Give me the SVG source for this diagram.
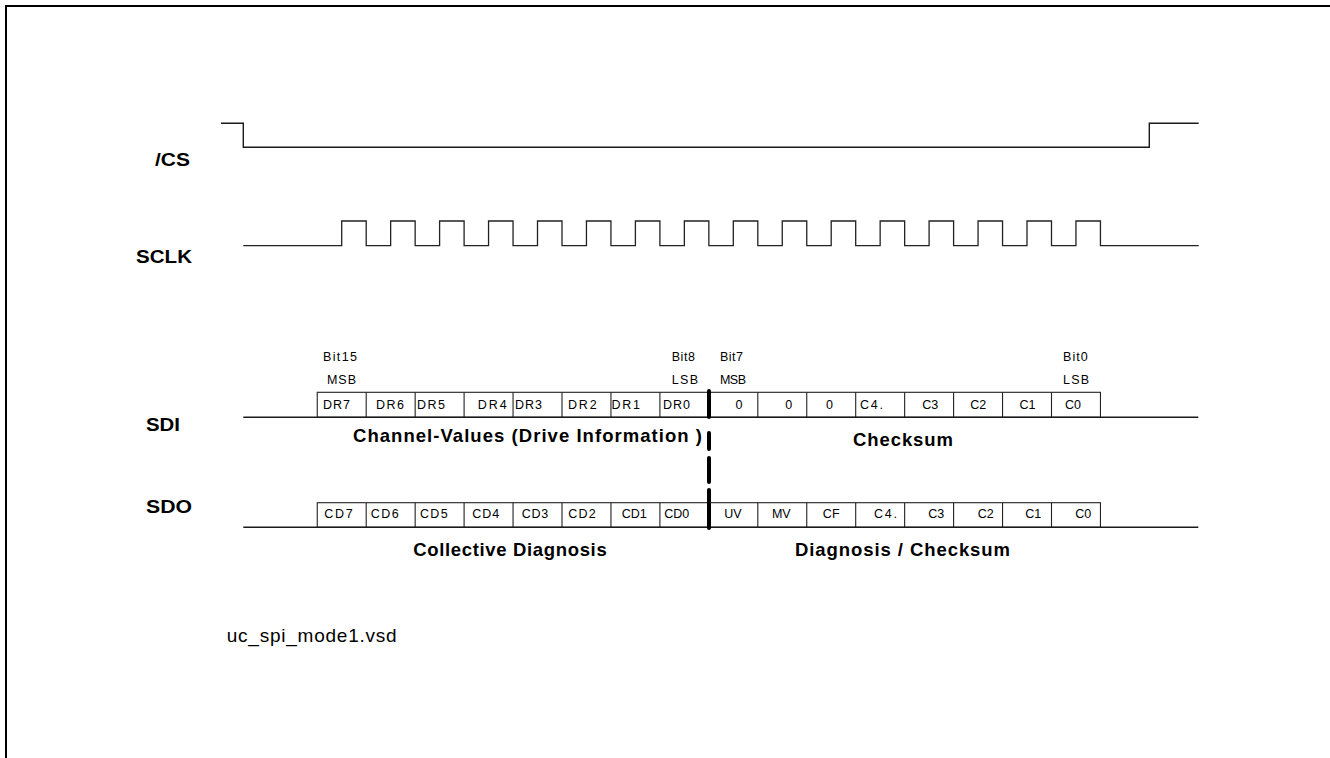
<svg xmlns="http://www.w3.org/2000/svg" width="1330" height="758" viewBox="0 0 1330 758">
<style>
.sig{fill:none;stroke:#1a1a1a;stroke-width:1.4}
.clk{fill:none;stroke:#222;stroke-width:1.3}
.box{fill:#fff;stroke:#222;stroke-width:1.1}
.div{stroke:#222;stroke-width:1.1}
.lbl{font-family:"Liberation Sans",Arial,sans-serif;font-weight:bold;font-size:19px;fill:#000}
.mid{font-family:"Liberation Sans",Arial,sans-serif;font-weight:bold;font-size:18.5px;fill:#000}
.sm{font-family:"Liberation Sans",Arial,sans-serif;font-size:12.5px;fill:#000}
.c{text-anchor:middle}
.fn{font-family:"Liberation Sans",Arial,sans-serif;font-size:19px;fill:#000}
.sep{stroke:#000;stroke-width:4;stroke-linecap:round}
</style>
<rect width="1330" height="758" fill="#fff"/>
<path d="M6,758 V6 H1330" fill="none" stroke="#000" stroke-width="2"/>

<g id="labels">
<text class="lbl" x="155" y="166" textLength="35" lengthAdjust="spacingAndGlyphs">/CS</text>
<text class="lbl" x="136" y="263" textLength="56" lengthAdjust="spacingAndGlyphs">SCLK</text>
<text class="lbl" x="146" y="431" textLength="34" lengthAdjust="spacingAndGlyphs">SDI</text>
<text class="lbl" x="146" y="513" textLength="46" lengthAdjust="spacingAndGlyphs">SDO</text>
</g>

<g id="cs">
<path class="sig" d="M221,123.3 H243.3 V147.3 H1149.3 V123.3 H1198.7"/>
</g>

<g id="sclk">
<path class="clk" d="M243.3,245.7 H341.7 V221 H366.2 V245.7 H390.65 V221 H415.15 V245.7 H439.6 V221 H464.1 V245.7 H488.55 V221 H513.05 V245.7 H537.5 V221 H562 V245.7 H586.45 V221 H610.95 V245.7 H635.4 V221 H659.9 V245.7 H684.35 V221 H708.85 V245.7 H733.3 V221 H757.8 V245.7 H782.25 V221 H806.75 V245.7 H831.2 V221 H855.7 V245.7 H880.15 V221 H904.65 V245.7 H929.1 V221 H953.6 V245.7 H978.05 V221 H1002.55 V245.7 H1027 V221 H1051.5 V245.7 H1075.95 V221 H1100.45 V245.7 H1198.7"/>
</g>

<g id="sdi">
<rect class="box" x="317.25" y="392.3" width="783.2" height="25"/>
<path class="div" d="M366.2,392.3V417.3 M415.15,392.3V417.3 M464.1,392.3V417.3 M513.05,392.3V417.3 M562,392.3V417.3 M610.95,392.3V417.3 M659.9,392.3V417.3 M708.85,392.3V417.3 M757.8,392.3V417.3 M806.75,392.3V417.3 M855.7,392.3V417.3 M904.65,392.3V417.3 M953.6,392.3V417.3 M1002.55,392.3V417.3 M1051.5,392.3V417.3"/>
<line class="sig" x1="243.3" y1="417.3" x2="1198.3" y2="417.3"/>
<text class="sm" x="323" y="360.7" textLength="34" lengthAdjust="spacing">Bit15</text>
<text class="sm" x="327" y="384" textLength="29" lengthAdjust="spacing">MSB</text>
<text class="sm" x="671.7" y="360.7" textLength="23.3" lengthAdjust="spacing">Bit8</text>
<text class="sm" x="671.7" y="384" textLength="26.3" lengthAdjust="spacing">LSB</text>
<text class="sm" x="720" y="360.7" textLength="23" lengthAdjust="spacing">Bit7</text>
<text class="sm" x="720" y="384" textLength="26" lengthAdjust="spacing">MSB</text>
<text class="sm" x="1063" y="360.7" textLength="24.7" lengthAdjust="spacing">Bit0</text>
<text class="sm" x="1063" y="384" textLength="26" lengthAdjust="spacing">LSB</text>
<text class="sm" x="323" y="408.5" textLength="27" lengthAdjust="spacing">DR7</text>
<text class="sm" x="376" y="408.5" textLength="28" lengthAdjust="spacing">DR6</text>
<text class="sm" x="417" y="408.5" textLength="28" lengthAdjust="spacing">DR5</text>
<text class="sm" x="477.7" y="408.5" textLength="29" lengthAdjust="spacing">DR4</text>
<text class="sm" x="515" y="408.5" textLength="27" lengthAdjust="spacing">DR3</text>
<text class="sm" x="568" y="408.5" textLength="28.7" lengthAdjust="spacing">DR2</text>
<text class="sm" x="611.5" y="408.5" textLength="28.5" lengthAdjust="spacing">DR1</text>
<text class="sm" x="663" y="408.5" textLength="27" lengthAdjust="spacing">DR0</text>
<text class="sm c" x="739" y="408.5">0</text>
<text class="sm c" x="788.7" y="408.5">0</text>
<text class="sm c" x="829.5" y="408.5">0</text>
<text class="sm" x="860" y="408.5" textLength="23" lengthAdjust="spacing">C4.</text>
<text class="sm c" x="930.3" y="408.5">C3</text>
<text class="sm c" x="978.3" y="408.5">C2</text>
<text class="sm c" x="1027.5" y="408.5">C1</text>
<text class="sm c" x="1073" y="408.5">C0</text>
<text class="mid" x="353" y="442" textLength="349" lengthAdjust="spacing">Channel-Values (Drive Information )</text>
<text class="mid" x="853" y="446" textLength="100" lengthAdjust="spacing">Checksum</text>
</g>

<g id="sdo">
<rect class="box" x="317.25" y="502.7" width="783.2" height="24.6"/>
<path class="div" d="M366.2,502.7V527.3 M415.15,502.7V527.3 M464.1,502.7V527.3 M513.05,502.7V527.3 M562,502.7V527.3 M610.95,502.7V527.3 M659.9,502.7V527.3 M708.85,502.7V527.3 M757.8,502.7V527.3 M806.75,502.7V527.3 M855.7,502.7V527.3 M904.65,502.7V527.3 M953.6,502.7V527.3 M1002.55,502.7V527.3 M1051.5,502.7V527.3"/>
<line class="sig" x1="243.3" y1="527.3" x2="1198.3" y2="527.3"/>
<text class="sm" x="324.3" y="517.7" textLength="28.4" lengthAdjust="spacing">CD7</text>
<text class="sm" x="370.7" y="517.7" textLength="28" lengthAdjust="spacing">CD6</text>
<text class="sm" x="420" y="517.7" textLength="27.7" lengthAdjust="spacing">CD5</text>
<text class="sm" x="472.3" y="517.7" textLength="27" lengthAdjust="spacing">CD4</text>
<text class="sm" x="521.7" y="517.7" textLength="26.6" lengthAdjust="spacing">CD3</text>
<text class="sm" x="568.3" y="517.7" textLength="27.4" lengthAdjust="spacing">CD2</text>
<text class="sm" x="621.7" y="517.7" textLength="25" lengthAdjust="spacing">CD1</text>
<text class="sm" x="664.3" y="517.7" textLength="25" lengthAdjust="spacing">CD0</text>
<text class="sm c" x="733" y="517.7">UV</text>
<text class="sm c" x="781.3" y="517.7">MV</text>
<text class="sm c" x="831.2" y="517.7">CF</text>
<text class="sm" x="874" y="517.7" textLength="23" lengthAdjust="spacing">C4.</text>
<text class="sm c" x="936.3" y="517.7">C3</text>
<text class="sm c" x="985.8" y="517.7">C2</text>
<text class="sm c" x="1033.3" y="517.7">C1</text>
<text class="sm c" x="1083.3" y="517.7">C0</text>
<text class="mid" x="413.3" y="556" textLength="193.4" lengthAdjust="spacing">Collective Diagnosis</text>
<text class="mid" x="795" y="556" textLength="215" lengthAdjust="spacing">Diagnosis / Checksum</text>
</g>

<g id="connectors">
<path class="sep" d="M709,391 V417 M709,433 V449 M709,458 V482 M709,490 V528"/>
</g>

<g id="footer">
<text class="fn" x="226.7" y="642" textLength="170" lengthAdjust="spacing">uc_spi_mode1.vsd</text>
</g>
</svg>
